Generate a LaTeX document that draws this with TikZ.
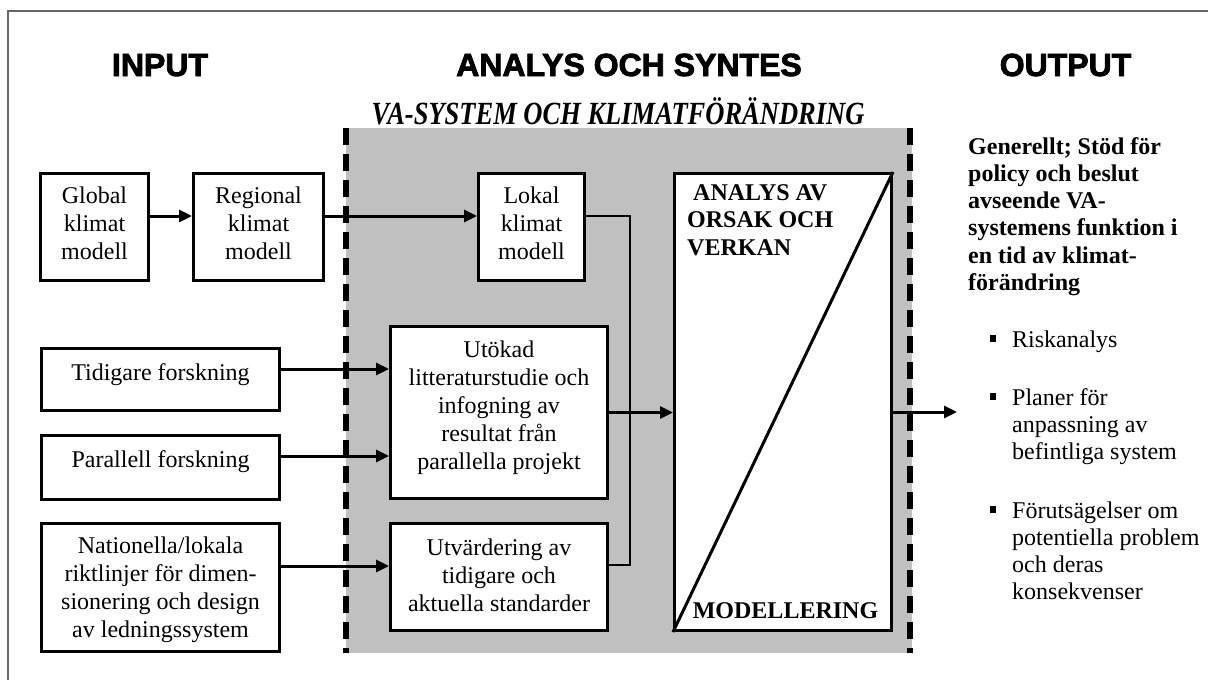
\documentclass[tikz,border=0pt]{standalone}
\usepackage{fontspec}
\setmainfont{Liberation Serif}
\newfontfamily\headfont[BoldFeatures={FakeBold=2.6}]{Liberation Sans}
\usetikzlibrary{arrows.meta}
\definecolor{graybg}{HTML}{C0C0C0}
\definecolor{framecol}{HTML}{666666}
\newcommand{\ctab}[1]{\begin{tabular}[t]{@{}c@{}}#1\end{tabular}}
\newcommand{\ltab}[1]{\begin{tabular}[t]{@{}l@{}}#1\end{tabular}}
\tikzset{
  box/.style={draw, line width=3pt, fill=white, inner sep=0pt},
  conn/.style={line width=3pt, -{Triangle[length=13pt,width=12pt]}},
  thinconn/.style={line width=1.3pt},
  txt/.style={inner sep=0pt, anchor=base, font=\fontsize{24}{28}\selectfont},
  ltxt/.style={inner sep=0pt, anchor=base west, font=\fontsize{24}{27.3}\selectfont},
  head/.style={inner sep=0pt, anchor=base, font=\headfont\bfseries\fontsize{32}{36}\selectfont},
  dashline/.style={line width=5.5pt, dash pattern=on 17pt off 9pt},
  bullet/.style={fill=black, inner sep=0pt, minimum size=6.5pt},
}
\begin{document}
\begin{tikzpicture}[x=1pt,y=-1pt]
\useasboundingbox (0,0) rectangle (1208,680);
\begin{scope}
  \clip (0,0) rectangle (1208,680);
  \draw[line width=1.2pt, framecol] (8,11) rectangle (1240,720);
\end{scope}

% headers
\node[head] (hin) at (160,76) {INPUT};
\node[head] (han) at (629,76) {ANALYS OCH SYNTES};
\node[head] (hout) at (1065.5,76) {OUTPUT};

% grey zone
\node[fill=graybg, minimum width=566pt, minimum height=525pt, inner sep=0pt] (zone) at (629,390.5) {};
\draw[dashline] (zone.north west) -- (zone.south west);
\draw[dashline] ([xshift=-2pt]zone.north east) -- ([xshift=-2pt]zone.south east);

\node[inner sep=0pt, anchor=base, font=\fontsize{26.5}{30}\selectfont\bfseries\itshape] (vatitle) at (618,124) {\scalebox{1}[1.22]{VA-SYSTEM OCH KLIMATFÖRÄNDRING}};

% boxes
\node[box, minimum width=108pt, minimum height=107pt] (global) at (94.5,227) {};
\node[box, minimum width=130pt, minimum height=107pt] (regional) at (258.5,227) {};
\node[box, minimum width=106pt, minimum height=107pt] (lokal) at (531.5,227) {};
\node[box, minimum width=238pt, minimum height=62pt] (tid) at (160.5,379.5) {};
\node[box, minimum width=238pt, minimum height=64pt] (par) at (160.5,467.5) {};
\node[box, minimum width=238pt, minimum height=128pt] (nat) at (160.5,587.5) {};
\node[box, minimum width=217pt, minimum height=172pt] (utok) at (499,412.5) {};
\node[box, minimum width=217pt, minimum height=107pt] (utv) at (499,577) {};
\node[box, minimum width=217pt, minimum height=457pt] (big) at (783,402) {};
\draw[line width=3pt] (big.south west) -- (big.north east);

% box texts
\node[txt] (tglobal) at (94.5,203) {\ctab{Global\\klimat\\modell}};
\node[txt] (tregional) at (258.5,203) {\ctab{Regional\\klimat\\modell}};
\node[txt] (tlokal) at (531.5,203) {\ctab{Lokal\\klimat\\modell}};
\node[txt] (ttid) at (160.5,380) {Tidigare forskning};
\node[txt] (tpar) at (160.5,467) {Parallell forskning};
\node[txt] (tnat) at (160.5,553) {\ctab{Nationella/lokala\\riktlinjer för dimen-\\sionering och design\\av ledningssystem}};
\node[txt] (tutok) at (499,357) {\ctab{Utökad\\litteraturstudie och\\infogning av\\resultat från\\parallella projekt}};
\node[txt] (tutv) at (499,555) {\ctab{Utvärdering av\\tidigare och\\aktuella standarder}};
\node[ltxt, font=\fontsize{24}{27.5}\selectfont\bfseries] (tbig) at (687,200) {\ltab{\hspace{6pt}ANALYS AV\\ORSAK OCH\\VERKAN}};
\node[txt, font=\fontsize{24}{28}\selectfont\bfseries] (tmod) at (785.5,618) {MODELLERING};

% output text
\node[ltxt, font=\fontsize{24}{27.3}\selectfont\bfseries] (tout) at (968,154) {\ltab{Generellt; Stöd för\\policy och beslut\\avseende VA-\\systemens funktion i\\en tid av klimat-\\förändring}};
\node[bullet] (b1) at (993,338.5) {};
\node[bullet] (b2) at (993,396.5) {};
\node[bullet] (b3) at (993,509.5) {};
\node[ltxt] (o1) at (1012,347) {Riskanalys};
\node[ltxt] (o2) at (1012,405) {\ltab{Planer för\\anpassning av\\befintliga system}};
\node[ltxt] (o3) at (1012,518) {\ltab{Förutsägelser om\\potentiella problem\\och deras\\konsekvenser}};

% connectors
\coordinate (r1) at (0,216);
\coordinate (j) at (630,565);
\coordinate (out) at (957,412);
\coordinate (yt) at (0,369);
\coordinate (yp) at (0,456);
\coordinate (yn) at (0,566);
\draw[conn] (global.east |- r1) -- (regional.west |- r1);
\draw[conn] (regional.east |- r1) -- (lokal.west |- r1);
\draw[thinconn] (lokal.east |- r1) -| (j) -- (utv.east |- j);
\draw[conn] (tid.east |- yt) -- (utok.west |- yt);
\draw[conn] (par.east |- yp) -- (utok.west |- yp);
\draw[conn] (nat.east |- yn) -- (utv.west |- yn);
\draw[conn] (utok.east) -- (big.west |- utok.east);
\draw[conn] (big.east |- out) -- (out);
\end{tikzpicture}
\end{document}
